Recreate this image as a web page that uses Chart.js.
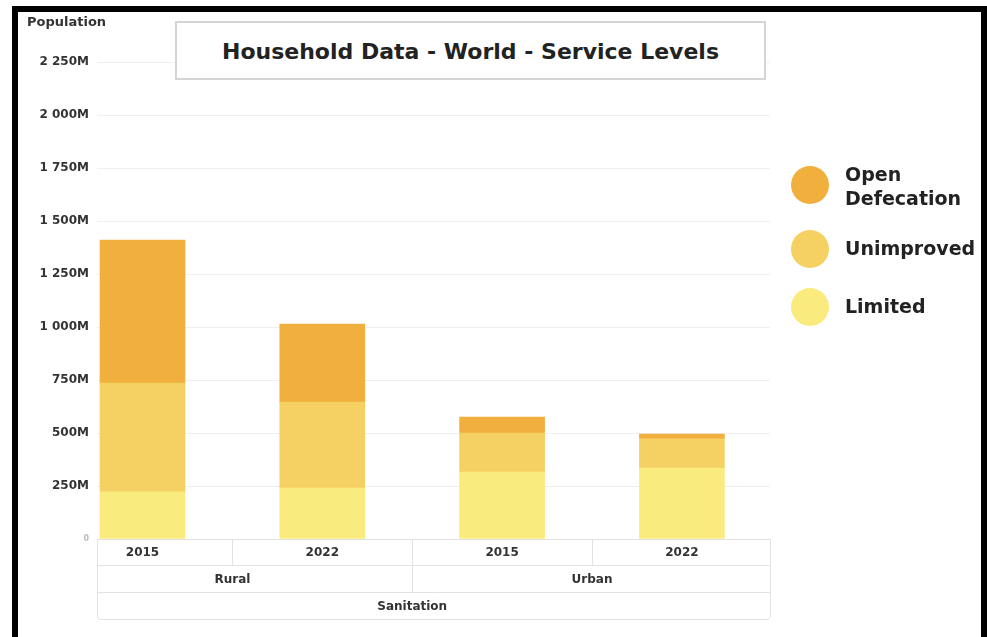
<!DOCTYPE html>
<html>
<head>
<meta charset="utf-8">
<script src="https://cdn.jsdelivr.net/npm/chart.js@4.4.1/dist/chart.umd.min.js"></script>
<style>
  html, body { margin: 0; padding: 0; background: #fff; overflow: hidden; }
  body { width: 987px; height: 637px; position: relative; font-family: 'DejaVu Sans', Verdana, sans-serif; }
  #frame { position: absolute; left: 12px; top: 6px; width: 975px; height: 700px; box-sizing: border-box;
           border: 6px solid #000; border-bottom: none; }
  #wrap { position: absolute; left: 0; top: 0; width: 987px; height: 637px; }
  #ylabel { position: absolute; left: 27px; top: 14px; font-size: 13px; font-weight: bold; color: #333; }
  #title { position: absolute; left: 175px; top: 21px; width: 591px; height: 59px; box-sizing: border-box;
           border: 2px solid #d4d4d4; background: #fff; text-align: center; line-height: 58px;
           font-size: 22px; font-weight: bold; color: #222; }
  #legend { position: absolute; left: 791px; top: 0; }
  .item { position: absolute; left: 0; width: 190px; }
  .dot { position: absolute; left: 0; width: 38px; height: 38px; border-radius: 50%; }
  .txt { position: absolute; left: 54px; font-size: 19px; font-weight: bold; color: #222; white-space: pre-line; line-height: 24px; }
</style>
</head>
<body>
<div id="frame"></div>
<div id="wrap"><canvas id="chart"></canvas></div>
<div id="ylabel">Population</div>
<div id="title">Household Data - World - Service Levels</div>
<div id="legend"></div>
<script>
// categories (year within area, area, indicator)
const years = ['2015', '2022', '2015', '2022'];
const areas = ['Rural', 'Urban'];
const indicator = 'Sanitation';

// population in millions, bottom of stack first
const limited = [222, 240, 316, 335];
const unimproved = [514, 406, 184, 137];
const openDefecation = [674, 368, 75, 23];

const seriesNames = ['Limited', 'Unimproved', 'Open Defecation'];
const seriesColors = ['#FAEB7E', '#F5D063', '#F1B03D'];

const yTickLabels = ['0', '250M', '500M', '750M', '1 000M', '1 250M', '1 500M', '1 750M', '2 000M', '2 250M'];

const FONT = "'DejaVu Sans', Verdana, sans-serif";

// table under the plot: years / area / indicator
const axisTable = {
  id: 'axisTable',
  afterDraw(chart) {
    const { ctx, chartArea: a, scales: { x } } = chart;
    const rowH = 27;
    const r0 = a.bottom, r1 = r0 + rowH - 1, r2 = r1 + rowH, r3 = r2 + rowH;
    const clamp = (p) => Math.max(a.left, Math.min(a.right, p));
    ctx.save();
    ctx.strokeStyle = '#e2e2e6';
    ctx.lineWidth = 1;
    ctx.beginPath();
    [r0, r1, r2].forEach((y) => { ctx.moveTo(a.left, y + 0.5); ctx.lineTo(a.right, y + 0.5); });
    // dividers between years
    for (let i = 0; i < years.length - 1; i++) {
      const px = Math.round(x.getPixelForValue(i + 0.5)) + 0.5;
      const bottom = (i === 1) ? r2 : r1;
      ctx.moveTo(px, r0); ctx.lineTo(px, bottom);
    }
    ctx.stroke();
    // outer box of the bottom row, rounded
    ctx.beginPath();
    ctx.moveTo(a.right + 0.5, r0);
    ctx.lineTo(a.right + 0.5, r3 - 4);
    ctx.quadraticCurveTo(a.right + 0.5, r3 + 0.5, a.right - 4, r3 + 0.5);
    ctx.lineTo(a.left + 4, r3 + 0.5);
    ctx.quadraticCurveTo(a.left + 0.5, r3 + 0.5, a.left + 0.5, r3 - 4);
    ctx.lineTo(a.left + 0.5, r0);
    ctx.stroke();

    ctx.fillStyle = '#333';
    ctx.font = `bold 12px ${FONT}`;
    ctx.textAlign = 'center';
    ctx.textBaseline = 'middle';
    years.forEach((t, i) => ctx.fillText(t, x.getPixelForValue(i), (r0 + r1) / 2 + 1));
    areas.forEach((t, g) => ctx.fillText(t, clamp(x.getPixelForValue(g * 2 + 0.5)), (r1 + r2) / 2 + 1));
    ctx.fillText(indicator, x.getPixelForValue((years.length - 1) / 2), (r2 + r3) / 2 + 1);
    ctx.restore();
  }
};

const stacks = [limited, unimproved, openDefecation];
const datasets = stacks.map((vals, k) => ({
  label: seriesNames[k],
  data: vals.map((v, i) => ({ x: i, y: v })),
  backgroundColor: seriesColors[k],
  borderWidth: 0,
  barThickness: 85,
}));

new Chart(document.getElementById('chart'), {
  type: 'bar',
  data: { datasets },
  options: {
    responsive: true,
    maintainAspectRatio: false,
    animation: false,
    layout: { padding: { left: 37, top: 62, right: 217, bottom: 98 } },
    plugins: { legend: { display: false }, tooltip: { enabled: false } },
    scales: {
      x: {
        type: 'linear',
        stacked: true,
        offset: false,
        bounds: 'data',
        min: -0.253,
        max: 3.49,
        display: false,
      },
      y: {
        stacked: true,
        min: 0,
        max: 2250,
        afterFit: (s) => { s.width = 60; },
        border: { display: false },
        grid: { color: '#efefef', drawTicks: false },
        ticks: {
          stepSize: 250,
          padding: 8,
          callback: (v, i) => yTickLabels[i],
          color: (c) => (c.tick && c.tick.value === 0 ? '#bbb' : '#333'),
          font: (c) => ({ family: FONT, weight: 'bold', size: (c.tick && c.tick.value === 0) ? 8 : 12 }),
        },
      },
    },
  },
  plugins: [axisTable],
});

// legend on the right, top item = top of stack
const legendEl = document.getElementById('legend');
const legendTops = [166, 230, 288];
seriesNames.slice().reverse().forEach((name, j) => {
  const k = seriesNames.length - 1 - j;
  const item = document.createElement('div');
  item.className = 'item';
  item.style.top = legendTops[j] + 'px';
  const dot = document.createElement('div');
  dot.className = 'dot';
  dot.style.background = seriesColors[k];
  const txt = document.createElement('div');
  txt.className = 'txt';
  const lines = name.split(' ');
  txt.textContent = lines.join('\n');
  txt.style.top = (lines.length > 1 ? -4 : 6) + 'px';
  item.appendChild(dot);
  item.appendChild(txt);
  legendEl.appendChild(item);
});
</script>
</body>
</html>
